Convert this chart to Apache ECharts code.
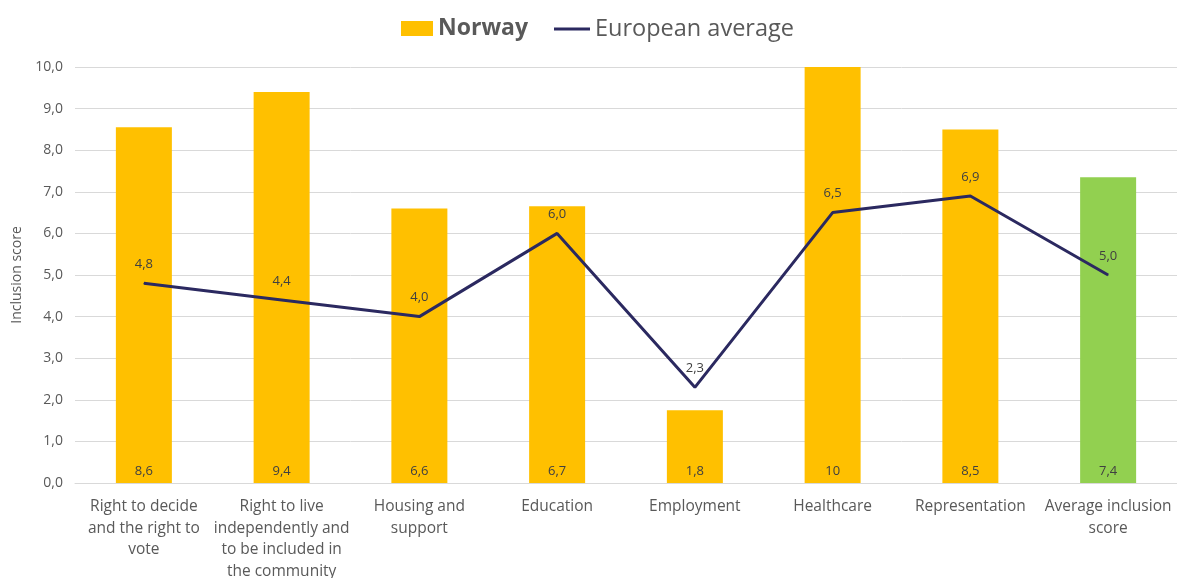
<!DOCTYPE html>
<html><head><meta charset="utf-8">
<script src="https://cdn.jsdelivr.net/npm/echarts@6/dist/echarts.min.js"></script>
<style>html,body{margin:0;padding:0;background:#fff}#c{width:1177px;height:578px}</style>
</head><body><div id="c"></div>
<script>
const categories = ['Right to decide\nand the right to\nvote','Right to live\nindependently and\nto be included in\nthe community','Housing and\nsupport','Education','Employment','Healthcare','Representation','Average inclusion\nscore'];
const norway = [8.55, 9.4, 6.6, 6.65, 1.75, 10, 8.5, 7.35];
const norwayLabels = ['8,6','9,4','6,6','6,7','1,8','10','8,5','7,4'];
const european = [4.8, 4.4, 4.0, 6.0, 2.3, 6.5, 6.9, 5.0];
const yTicks = [0,1,2,3,4,5,6,7,8,9,10];
const FONT = '"Open Sans", sans-serif';
const chart = echarts.init(document.getElementById('c'));
chart.setOption({
  animation:false,
  textStyle:{fontFamily:FONT},
  legend:[
    {data:[{name:'Norway',icon:'rect'}],left:396,top:12,itemWidth:32,itemHeight:15,itemGap:4,
     textStyle:{fontSize:23,fontWeight:'bold',color:'#595959',fontFamily:FONT}},
    {data:[{name:'European average',icon:'rect'}],left:549,top:12,itemWidth:36,itemHeight:3,
     textStyle:{fontSize:23.5,color:'#595959',fontFamily:FONT}}
  ],
  grid:{left:75,right:0,top:67,bottom:95,containLabel:false,outerBoundsMode:'none'},
  xAxis:{type:'category',data:categories,
    axisLine:{lineStyle:{color:'#d9d9d9'}},axisTick:{show:false},
    axisLabel:{interval:0,color:'#595959',fontSize:15.5,lineHeight:21.5,margin:13,fontFamily:FONT}},
  yAxis:{type:'value',min:yTicks[0],max:yTicks[yTicks.length-1],interval:1,name:'Inclusion score',nameLocation:'middle',nameGap:50,
    nameTextStyle:{color:'#595959',fontSize:14,fontFamily:FONT},
    axisLabel:{color:'#595959',fontSize:14,margin:12,formatter:v=>v.toFixed(1).replace('.',',')},
    splitLine:{lineStyle:{color:'#d9d9d9'}},axisLine:{show:false},axisTick:{show:false}},
  series:[
    {name:'Norway',type:'bar',barWidth:56,
     itemStyle:{color:'#FFC000'},
     data:norway.map((v,i)=>i===norway.length-1?{value:v,itemStyle:{color:'#92D050'}}:v),
     label:{show:true,position:'insideBottom',distance:5,color:'#404040',fontSize:13,fontFamily:FONT,
       formatter:p=>norwayLabels[p.dataIndex]}},
    {name:'European average',type:'line',data:european,
     lineStyle:{color:'#2B2960',width:3},itemStyle:{color:'#2B2960'},
     symbol:'circle',symbolSize:1,showSymbol:true,
     label:{show:true,position:'top',distance:12,color:'#404040',fontSize:13,fontFamily:FONT,
       formatter:p=>p.value.toFixed(1).replace('.',',')}}
  ]
});
</script></body></html>
